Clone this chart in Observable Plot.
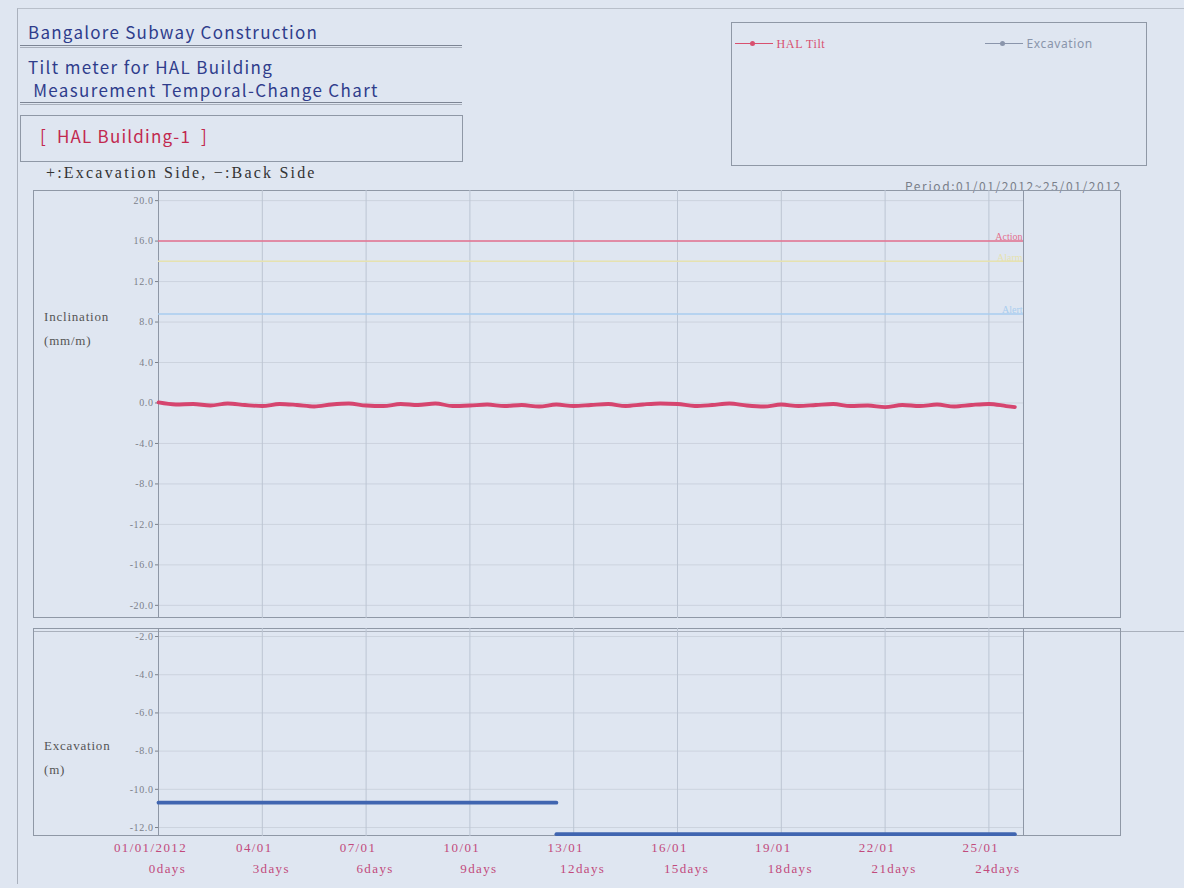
<!DOCTYPE html>
<html>
<head>
<meta charset="utf-8">
<script src="https://cdn.jsdelivr.net/npm/d3@7"></script>
<script src="https://cdn.jsdelivr.net/npm/@observablehq/plot@0.6"></script>
<style>
  html, body { margin:0; padding:0; }
  body { width:1184px; height:888px; background:#dfe6f1; position:relative; overflow:hidden; font-family:"Noto Sans CJK JP","Noto Sans",sans-serif; }
  .abs { position:absolute; }
  .hd { color:#2f3d8c; font-size:17px; white-space:pre; line-height:23px; letter-spacing:1.25px; }
  .rule2 { border-top:1px solid #7d8594; border-bottom:1px solid #a9b0bc; height:1px; }
  .box { border:1px solid #8f98a6; box-sizing:border-box; }
  .serif { font-family:"Liberation Serif","DejaVu Serif",serif; }
  #bottomPanel g[aria-label="x-axis tick label"] text { letter-spacing:1.4px; }
  svg g[aria-label="y-axis tick label"] text { letter-spacing:0.6px; }
</style>
</head>
<body>
<div class="abs" style="left:17px;top:8px;width:1167px;height:875px;border-left:1px solid #aab1bd;border-top:1px solid #b8bfca;"></div>

<div class="abs hd" style="left:28px;top:20px;">Bangalore Subway Construction</div>
<div class="abs rule2" style="left:20px;top:45px;width:442px;"></div>
<div class="abs hd" style="left:28px;top:55px;letter-spacing:1.35px;">Tilt meter for HAL Building
 Measurement Temporal-Change Chart</div>
<div class="abs rule2" style="left:20px;top:102px;width:442px;"></div>
<div class="abs box" style="left:20px;top:115px;width:443px;height:47px;"></div>
<div class="abs hd" style="left:40px;top:124px;color:#c2294f;letter-spacing:1.2px;">[  HAL Building-1  ]</div>
<div class="abs serif" style="left:46px;top:164px;font-size:16px;letter-spacing:2.2px;color:#333;white-space:pre;">+:Excavation Side, −:Back Side</div>

<div class="abs box" style="left:731px;top:22px;width:416px;height:144px;"></div>
<div id="legend"></div>
<div class="abs" style="left:905px;top:177px;font-size:12px;color:#7a7f8a;letter-spacing:1.6px;white-space:nowrap;">Period:01/01/2012~25/01/2012</div>

<div class="abs box" style="left:33px;top:190px;width:1088px;height:428px;"></div>
<div id="topPanel" class="abs" style="left:33px;top:190px;"></div>
<div class="abs serif" style="left:44px;top:305px;font-size:13px;letter-spacing:0.8px;line-height:24px;color:#555;">Inclination<br>(mm/m)</div>

<div class="abs" style="left:33px;top:631px;width:1151px;border-top:1px solid #a9b0bc;"></div>
<div class="abs box" style="left:33px;top:628px;width:1088px;height:208px;"></div>
<div id="bottomPanel" class="abs" style="left:33px;top:628px;"></div>
<div class="abs serif" style="left:44px;top:734px;font-size:13px;letter-spacing:0.8px;line-height:24px;color:#555;">Excavation<br>(m)</div>

<script>
// ---------- data ----------
const tiltDays = [0,0.5,1,1.5,2,2.5,3,3.5,4,4.5,5,5.5,6,6.5,7,7.5,8,8.5,9,9.5,10,10.5,11,11.5,12,12.5,13,13.5,14,14.5,15,15.5,16,16.5,17,17.5,18,18.5,19,19.5,20,20.5,21,21.5,22,22.5,23,23.5,24,24.5,24.75];
const tiltValues = [0.05,-0.15,-0.1,-0.25,-0.05,-0.2,-0.3,-0.1,-0.2,-0.35,-0.15,-0.05,-0.25,-0.3,-0.1,-0.2,-0.05,-0.3,-0.25,-0.15,-0.3,-0.2,-0.35,-0.15,-0.3,-0.2,-0.1,-0.3,-0.15,-0.05,-0.1,-0.3,-0.2,-0.05,-0.25,-0.35,-0.15,-0.3,-0.2,-0.1,-0.3,-0.25,-0.4,-0.2,-0.3,-0.15,-0.35,-0.2,-0.1,-0.3,-0.4];

const excDays   = [0, 11.5, 11.5, 24.75];
const excDepth  = [-10.7, -10.7, -12.35, -12.35];
const excStage  = ["stage1","stage1","stage2","stage2"];

const thresholdNames  = ["Action","Alarm","Alert"];
const thresholdValues = [16.0, 14.0, 8.8];
const thresholdColors = ["#e4708f","#e6e2b0","#a9cdef"];

const xTickDays  = [0,3,6,9,12,15,18,21,24];
const xTickDates = ["01/01/2012","04/01","07/01","10/01","13/01","16/01","19/01","22/01","25/01"];
const xTickLabels = ["0days","3days","6days","9days","12days","15days","18days","21days","24days"];
const yTopTicks = [20,16,12,8,4,0,-4,-8,-12,-16,-20];
const yBotTicks = [-2,-4,-6,-8,-10,-12];

const legendNames = ["HAL Tilt","Excavation"];
const legendColors = ["#d8506f","#8a95ab"];

// ---------- tables ----------
const tilt = tiltDays.map((d,i)=>({day:d, v:tiltValues[i]}));
const exc = excDays.map((d,i)=>({day:d, v:excDepth[i], stage:excStage[i]}));
const thr = thresholdNames.map((n,i)=>({name:n, v:thresholdValues[i], c:thresholdColors[i]}));
const dateLabel = new Map(xTickDays.map((d,i)=>[d, xTickDates[i]]));
const dayLabel = new Map(xTickDays.map((d,i)=>[d, xTickLabels[i]]));

const serif = "Liberation Serif, DejaVu Serif, serif";
const W = 1088, ML = 125, MR = 98;

// ---------- top panel ----------
const topChart = Plot.plot({
  width: W, height: 428,
  marginLeft: ML, marginRight: MR, marginTop: 0, marginBottom: 0,
  style: {background:"transparent", fontFamily: serif, overflow:"visible"},
  x: {domain:[0,25], axis:null},
  y: {domain:[-21.3, 21.0], axis:null},
  marks: [
    Plot.ruleY(yTopTicks, {stroke:"#ccd3de", strokeWidth:1}),
    Plot.ruleX(xTickDays.slice(1), {stroke:"#bcc5d3", strokeWidth:1}),
    Plot.ruleX([0, 25], {stroke:"#8e97a6", strokeWidth:1}),
    Plot.ruleY(thr, {y:"v", stroke:"c", strokeWidth:1.5}),
    Plot.text(thr, {x:25, y:"v", text:"name", fill:"c", textAnchor:"end", dx:-1, dy:-4, fontSize:10}),
    Plot.axisY({ticks:yTopTicks, label:null, tickFormat:d=>d.toFixed(1), tickSize:3, tickPadding:2, fontSize:10, color:"#7b808a", fontFamily:serif}),
    Plot.line(tilt, {x:"day", y:"v", stroke:"#d6456f", strokeWidth:3.8, curve:"monotone-x"})
  ]
});
document.getElementById("topPanel").appendChild(topChart);

// ---------- bottom panel ----------
const bottomChart = Plot.plot({
  width: W, height: 208 + 52,
  marginLeft: ML, marginRight: MR, marginTop: 0, marginBottom: 52,
  style: {background:"transparent", fontFamily: serif, overflow:"visible"},
  x: {domain:[0,25], axis:null},
  y: {domain:[-12.47, -1.58], axis:null},
  marks: [
    Plot.ruleY(yBotTicks, {stroke:"#ccd3de", strokeWidth:1}),
    Plot.ruleX(xTickDays.slice(1), {stroke:"#bcc5d3", strokeWidth:1}),
    Plot.ruleX([0, 25], {stroke:"#8e97a6", strokeWidth:1}),
    Plot.axisY({ticks:yBotTicks, label:null, tickFormat:d=>d.toFixed(1), tickSize:3, tickPadding:2, fontSize:10, color:"#7b808a", fontFamily:serif}),
    Plot.line(exc, {x:"day", y:"v", z:"stage", stroke:"#4065b0", strokeWidth:3.8}),
    Plot.axisX({ticks:xTickDays, label:null, tickFormat:d=>dateLabel.get(d), tickSize:0, tickPadding:0, dy:6, dx:-8, fontSize:13, color:"#c24a7c", fontFamily:serif}),
    Plot.axisX({ticks:xTickDays, label:null, tickFormat:d=>dayLabel.get(d), tickSize:0, tickPadding:0, dy:27, dx:9, fontSize:13, color:"#c24a7c", fontFamily:serif})
  ]
});
document.getElementById("bottomPanel").appendChild(bottomChart);

// ---------- legend (HTML) ----------
const leg = document.getElementById("legend");
const legX = [735, 985];
legendNames.forEach((n,i)=>{
  const d = document.createElement("div");
  d.className = "abs";
  d.style.left = legX[i] + "px"; d.style.top = "29px";
  d.style.whiteSpace = "nowrap";
  d.innerHTML = `<span style="display:inline-block;width:38px;height:0;border-top:1px solid ${legendColors[i]};vertical-align:middle;position:relative;"><span style="position:absolute;left:15px;top:-3px;width:5px;height:5px;border-radius:3px;background:${legendColors[i]}"></span></span> <span style="font-size:12px;letter-spacing:0.6px;color:${legendColors[i]};font-family:${i===0?serif:'Noto Sans, sans-serif'};">${n}</span>`;
  leg.appendChild(d);
});
</script>
</body>
</html>
